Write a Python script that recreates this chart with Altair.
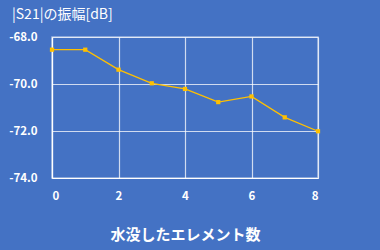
import altair as alt
import pandas as pd

# Number of submerged elements and the measured |S21| amplitude
elements = [0, 1, 2, 3, 4, 5, 6, 7, 8]
s21_db = [-68.54, -68.54, -69.39, -69.97, -70.21, -70.77, -70.53, -71.42, -72.01]
y_ticks = [-74, -72, -70, -68]
x_ticks = [0, 2, 4, 6, 8]

df = pd.DataFrame({"n": elements, "s21": s21_db})

FONT = "Noto Sans CJK JP"
BG = "#4472C4"
GOLD = "#FFC000"

chart = (
    alt.Chart(df)
    .mark_line(
        color=GOLD,
        strokeWidth=1.3,
        point=alt.OverlayMarkDef(shape="square", size=18, color=GOLD, filled=True),
    )
    .encode(
        x=alt.X(
            "n:Q",
            scale=alt.Scale(domain=[0, 8], nice=False),
            axis=alt.Axis(
                values=x_ticks,
                title="水没したエレメント数",
                titleFontSize=15,
                titleFontWeight="bold",
                titleColor="white",
                titlePadding=26,
                labelColor="white",
                labelFontSize=11.5,
                labelFontWeight="bold",
                labelPadding=12,
                ticks=False,
                domainColor="white",
                domainWidth=1.2,
                gridColor="white",
                gridOpacity=0.75,
                gridWidth=1.2,
            ),
        ),
        y=alt.Y(
            "s21:Q",
            scale=alt.Scale(domain=[-74, -68], nice=False),
            axis=alt.Axis(
                values=y_ticks,
                labelExpr="replace(format(datum.value, '.1f'), '\u2212', '-')",
                title=None,
                labelColor="white",
                labelFontSize=11.5,
                labelFontWeight="bold",
                labelPadding=15,
                ticks=False,
                domainColor="white",
                domainWidth=1.2,
                gridColor="white",
                gridOpacity=0.75,
                gridWidth=1.2,
            ),
        ),
    )
    .properties(
        width=266,
        height=141,
        title=alt.TitleParams(
            "|S21|の振幅[dB]",
            anchor="start",
            frame="group",
            dx=-40,
            offset=9,
            fontSize=14,
            fontWeight="normal",
            color="white",
            font=FONT,
        ),
        background=BG,
        autosize=alt.AutoSizeParams(type="none"),
        padding={"left": 52, "top": 37, "right": 62, "bottom": 72},
    )
    .configure(font=FONT)
    .configure_view(stroke="white", strokeOpacity=0.5, strokeWidth=1.5)
)

chart.save("out.html", embed_options={"renderer": "svg", "actions": False})
